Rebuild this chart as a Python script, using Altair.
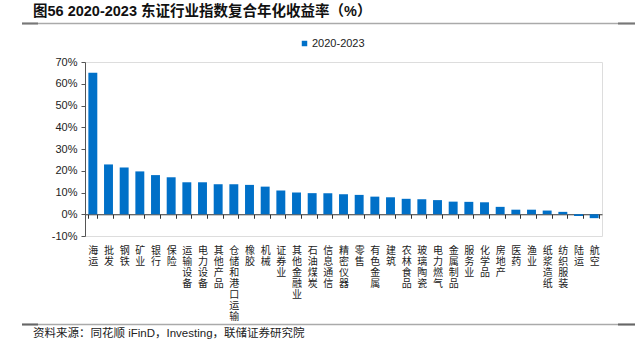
import altair as alt
import pandas as pd

categories = ["海运", "批发", "钢铁", "矿业", "银行", "保险", "运输设备", "电力设备", "其他产品",
              "仓储和港口运输", "橡胶", "机械", "证券业", "其他金融业", "石油煤炭", "信息通信",
              "精密仪器", "零售", "有色金属", "建筑", "农林食品", "玻璃陶瓷", "电力燃气",
              "金属制品", "服务业", "化学品", "房地产", "医药", "渔业", "纸浆造纸", "纺织服装",
              "陆运", "航空"]
values = [65.1, 22.9, 21.5, 19.7, 18.0, 17.0, 14.7, 14.7, 13.8, 13.8, 13.5, 12.7, 10.9, 10.0,
          9.7, 9.6, 9.2, 8.9, 8.1, 7.8, 7.1, 6.9, 6.5, 5.8, 5.7, 5.5, 3.4, 2.1, 2.1, 1.7, 1.1,
          -0.8, -1.8]
series_name = "2020-2023"
y_ticks = [-10, 0, 10, 20, 30, 40, 50, 60, 70]
title_text = "图56 2020-2023 东证行业指数复合年化收益率（%）"
source_text = "资料来源：同花顺 iFinD，Investing，联储证券研究院"

df = pd.DataFrame({"industry": categories, "value": values, "series": series_name})

W, H = 517, 174
LEFT, TOP = 85, 62
CJK = "Liberation Sans, Noto Sans CJK SC"

bars = alt.Chart(df).mark_bar(color="#0070C8").encode(
    x=alt.X("industry:N", sort=categories,
            scale=alt.Scale(paddingInner=0.43, paddingOuter=0.215),
            axis=alt.Axis(title=None, orient="bottom", offset=-21.75,
                          domain=True, domainColor="#333333", domainWidth=1,
                          ticks=True, tickBand="extent", tickSize=4, tickColor="#333333",
                          labelAngle=0, labelAlign="center", labelBaseline="top",
                          labelExpr="split(datum.label, '')", labelLineHeight=11,
                          labelPadding=27, labelFont="Noto Sans CJK SC", labelFontSize=10,
                          labelColor="#222222", labelOverlap=False)),
    y=alt.Y("value:Q",
            scale=alt.Scale(domain=[-10, 70], nice=False, zero=False),
            axis=alt.Axis(title=None, values=y_ticks, labelExpr="datum.value + '%'",
                          grid=False, domainColor="#555555", tickColor="#555555",
                          tickSize=4, labelPadding=4, labelFont="Liberation Sans",
                          labelFontSize=11, labelColor="#222222")),
    color=alt.Color("series:N", scale=alt.Scale(range=["#0070C8"]),
                    legend=alt.Legend(title=None, orient="none", legendX=214, legendY=-24,
                                      symbolType="square", symbolSize=30, labelOffset=2,
                                      labelFont="Liberation Sans", labelFontSize=11,
                                      labelColor="#222222", symbolStrokeWidth=0)),
)

one = alt.Data(values=[{"a": 1}])

title = alt.Chart(one).mark_text(align="left", baseline="middle", fontSize=14.5,
                                 fontWeight="bold", font=CJK, color="#111111").encode(
    x=alt.value(33 - LEFT), y=alt.value(12 - TOP), text=alt.value(title_text))

source = alt.Chart(one).mark_text(align="left", baseline="middle", fontSize=11.5,
                                  font=CJK, color="#222222").encode(
    x=alt.value(33 - LEFT), y=alt.value(334 - TOP), text=alt.value(source_text))

def hline(x1, x2, y, color, width):
    return alt.Chart(one).mark_rule(color=color, strokeWidth=width).encode(
        x=alt.value(x1 - LEFT), x2=alt.value(x2 - LEFT), y=alt.value(y - TOP))

lines = [
    hline(22, 635, 23.5, "#aaaaaa", 1.5),
    hline(22, 38, 23.5, "#777777", 2),
    hline(618, 635, 23.5, "#777777", 2),
    hline(22, 635, 324.5, "#aaaaaa", 1.5),
    hline(22, 38, 324.5, "#666666", 2),
    hline(618, 635, 324.5, "#666666", 2),
]

chart = alt.layer(bars, title, source, *lines).properties(
    width=W, height=H,
    autosize=alt.AutoSizeParams(type="none"),
    padding={"left": LEFT, "top": TOP, "right": 639 - LEFT - W, "bottom": 354 - TOP - H},
).configure_view(stroke=None).configure(background="white")

chart.save("out.html", embed_options={"renderer": "svg", "actions": False})
